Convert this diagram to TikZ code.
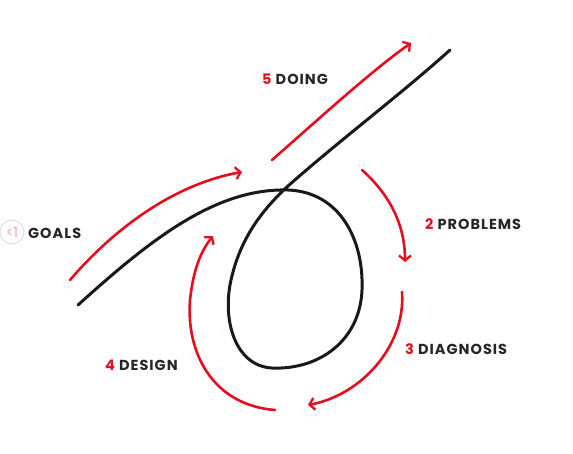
\documentclass[tikz,border=0pt]{standalone}
\usepackage{fontspec}
\setmainfont{Poppins}
\newfontfamily\labelfont[LetterSpace=7]{Poppins}
\usetikzlibrary{arrows.meta}
\definecolor{stepred}{RGB}{230,14,30}
\begin{document}
\begin{tikzpicture}[x=1pt, y=-1pt, % pixel-like coordinates, y going down
  loopline/.style={line width=3pt, black!90, line cap=round},
  redarrow/.style={line width=2.6pt, stepred, line cap=round,
    -{Straight Barb[length=5pt,width=12pt,line width=2.3pt]}},
  steplabel/.style={anchor=west, inner sep=0pt, text=black!85,
    font=\labelfont\bfseries\fontsize{14.5}{16}\selectfont}]
\useasboundingbox (0,0) rectangle (573,454);

% the pen stroke with its loop
\draw[loopline] (78,305) .. controls (150,240) and (215,188) .. (288,190)
  .. controls (340,192) and (364,240) .. (362,290)
  .. controls (360,340) and (320,370) .. (272,368)
  .. controls (235,366) and (222,320) .. (231,280)
  .. controls (240,240) and (260,212) .. (288,186)
  .. controls (340,140) and (400,95) .. (450,50);

% free ends of the red arrows
\coordinate (goalsA) at (70,280);   \coordinate (goalsB) at (242,172);
\coordinate (doingA) at (272,160);  \coordinate (doingB) at (411,43);
\coordinate (probA) at (362,170);   \coordinate (probB) at (405,262);
\coordinate (diagA) at (402,292);   \coordinate (diagB) at (308,405);
\coordinate (desA) at (275,410);    \coordinate (desB) at (213,236);

\draw[redarrow] (goalsA) .. controls (120,222) and (180,183) .. (goalsB);
\draw[redarrow] (doingA) .. controls (320,118) and (370,72) .. (doingB);
\draw[redarrow] (probA) .. controls (390,195) and (405,225) .. (probB);
\draw[redarrow] (diagA) .. controls (406,345) and (362,395) .. (diagB);
\draw[redarrow] (desA) .. controls (212,405) and (186,352) .. (190,300)
  .. controls (193,272) and (200,252) .. (desB);

% labels
\node[circle, draw=black!12, line width=1pt, minimum size=24pt, inner sep=0pt,
  text=stepred!40, font=\fontsize{14}{16}\selectfont] (goalsicon) at (12,232) {<1};
\node[steplabel] (goals) at (28,233) {GOALS};
\node[steplabel] (doing) at (262,79) {\textcolor{stepred}{5} DOING};
\node[steplabel] (problems) at (425,224) {\textcolor{stepred}{2} PROBLEMS};
\node[steplabel] (diagnosis) at (405,349) {\textcolor{stepred}{3} DIAGNOSIS};
\node[steplabel] (design) at (105,365) {\textcolor{stepred}{4} DESIGN};
\end{tikzpicture}
\end{document}
